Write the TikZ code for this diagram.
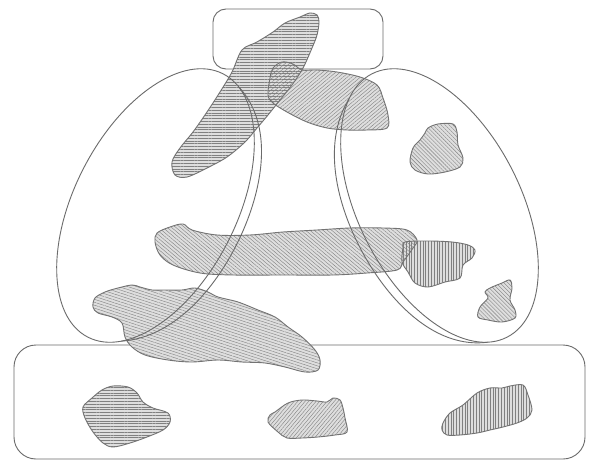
\documentclass[tikz,border=0pt]{standalone}
\usetikzlibrary{patterns.meta}
\definecolor{blobgray}{gray}{0.87}
\definecolor{hatchg}{gray}{0.50}
\definecolor{lineg}{gray}{0.45}
\definecolor{frameg}{gray}{0.42}
\tikzset{
  blobbg/.style={fill=blobgray},
  blobline/.style={draw=lineg, line width=0.9pt},
  frame/.style={draw=frameg, line width=0.9pt},
  hatch/.style={pattern={Lines[angle=#1,distance=2.8pt,line width=0.4pt]}, pattern color=hatchg},
  blobcurve/.style={smooth cycle, tension=0.55}
}
\begin{document}
\begin{tikzpicture}[x=1pt,y=-1pt]
\useasboundingbox (0,0) rectangle (589,460);
\fill[white] (0,0) rectangle (589,460);
% frames
\draw[frame, rounded corners=13pt] (213,9) rectangle (383,69);
\draw[frame, rounded corners=22pt] (14,345) rectangle (585,459);
% blob backgrounds (saved paths)
\path[blobbg, save path=\pDH] plot[blobcurve] coordinates {(317,15) (319,22) (317,35) (312,48) (303,68) (292,85) (280,100) (268,115) (257,128) (245,142) (227,157) (207,168) (187,177) (175,175) (172,162) (180,148) (193,132) (207,112) (220,92) (232,72) (242,50) (257,42) (273,32) (285,23) (300,17) (310,13)};
\path[blobbg, save path=\pTM] plot[blobcurve] coordinates {(282,62) (293,64) (302,70) (317,70) (337,72) (360,77) (377,85) (383,98) (388,115) (387,128) (367,130) (347,130) (327,128) (307,122) (287,112) (273,103) (268,95) (270,78) (273,68)};
\path[blobbg, save path=\pBD] plot[blobcurve] coordinates {(157,233) (170,227) (183,224) (192,230) (217,235) (250,235) (283,232) (317,230) (350,228) (383,228) (407,230) (417,240) (413,248) (403,262) (397,270) (367,273) (333,275) (283,275) (233,275) (200,273) (173,265) (160,255) (155,242)};
\path[blobbg, save path=\pVB] plot[blobcurve] coordinates {(405,242) (428,241) (452,242) (468,245) (475,250) (472,258) (463,265) (460,278) (445,282) (428,287) (415,283) (408,272) (402,262) (403,248)};
\path[blobbg, save path=\pST] plot[blobcurve] coordinates {(428,128) (438,124) (453,124) (457,132) (458,145) (463,158) (460,167) (445,172) (428,174) (415,170) (410,162) (413,148) (420,140) (425,133)};
\path[blobbg, save path=\pSB] plot[blobcurve] coordinates {(490,288) (502,283) (510,280) (512,288) (510,300) (515,310) (515,318) (502,322) (488,320) (478,317) (480,307) (488,298) (485,292)};
\path[blobbg, save path=\pBL] plot[blobcurve] coordinates {(95,298) (105,292) (118,288) (132,285) (140,287) (152,290) (165,290) (182,290) (195,288) (208,292) (218,297) (238,302) (258,310) (275,317) (288,327) (302,337) (315,350) (320,360) (318,370) (305,372) (285,367) (265,363) (242,362) (218,360) (192,362) (168,360) (145,355) (132,347) (125,337) (122,323) (112,317) (98,313) (93,307)};
\path[blobbg, save path=\pBA] plot[blobcurve] coordinates {(102,390) (113,386) (128,387) (137,393) (143,402) (153,408) (168,413) (170,422) (163,430) (147,437) (130,443) (113,447) (103,443) (93,432) (85,418) (83,407) (92,398)};
\path[blobbg, save path=\pBB] plot[blobcurve] coordinates {(275,412) (288,403) (302,400) (317,401) (327,402) (333,398) (340,400) (343,408) (345,418) (347,432) (335,435) (318,437) (302,438) (287,438) (278,432) (268,422) (270,415)};
\path[blobbg, save path=\pBC] plot[blobcurve] coordinates {(443,423) (450,413) (463,405) (477,393) (490,388) (502,388) (510,386) (523,385) (528,395) (532,410) (527,418) (517,423) (503,427) (490,430) (477,433) (460,435) (447,435) (442,430)};
% hatching
\path[use path=\pDH, hatch=0];
\path[use path=\pTM, hatch=40];
\path[use path=\pBD, hatch=-40];
\path[use path=\pVB, hatch=90];
\path[use path=\pST, hatch=-45];
\path[use path=\pSB, hatch=-45];
\path[use path=\pBL, hatch=-18];
\path[use path=\pBA, hatch=0];
\path[use path=\pBB, hatch=50];
\path[use path=\pBC, hatch=90];
% outlines
\path[use path=\pDH, blobline];
\path[use path=\pTM, blobline];
\path[use path=\pBD, blobline];
\path[use path=\pVB, blobline];
\path[use path=\pST, blobline];
\path[use path=\pSB, blobline];
\path[use path=\pBL, blobline];
\path[use path=\pBA, blobline];
\path[use path=\pBB, blobline];
\path[use path=\pBC, blobline];
% ellipses with doubled inner side
\begin{scope}[shift={(155.5,205.5)}, rotate=62.8, x=1pt, y=1pt]
  \draw[frame] (0,0) ellipse [x radius=148pt, y radius=81pt];
  \draw[frame] plot[domain=203:346, samples=90, variable=\t, smooth] ({148*cos(\t)}, {81*sin(\t) - 9*abs(sin((\t-203)*1.2587))*(2-abs(sin((\t-203)*1.2587)))});
\end{scope}
\begin{scope}[shift={(439.5,205.5)}, rotate=-62.8, x=1pt, y=1pt]
  \draw[frame] (0,0) ellipse [x radius=148pt, y radius=81pt];
  \draw[frame] plot[domain=203:346, samples=90, variable=\t, smooth] ({148*cos(\t)}, {81*sin(\t) - 9*abs(sin((\t-203)*1.2587))*(2-abs(sin((\t-203)*1.2587)))});
\end{scope}
\end{tikzpicture}
\end{document}
